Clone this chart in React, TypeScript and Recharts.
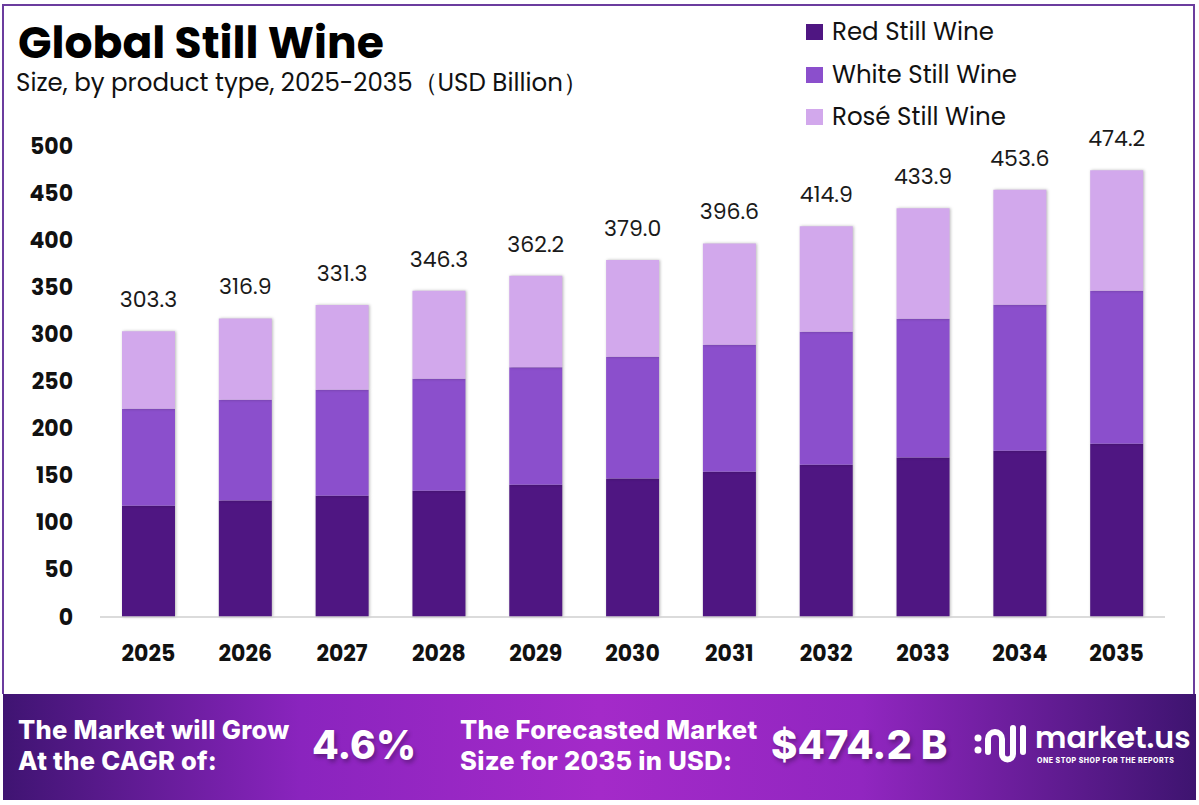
import React from 'react';
import { BarChart, Bar, XAxis, YAxis, LabelList } from 'recharts';

const years = ['2025', '2026', '2027', '2028', '2029', '2030', '2031', '2032', '2033', '2034', '2035'];
const redStill = [118.0, 123.6, 128.6, 133.9, 140.3, 147.0, 154.1, 161.5, 169.3, 176.4, 183.8];
const whiteStill = [103.0, 107.0, 112.6, 119.0, 124.7, 129.3, 134.9, 141.4, 147.4, 155.2, 162.6];
const roseStill = [82.3, 86.3, 90.1, 93.4, 97.2, 102.7, 107.6, 112.0, 117.2, 122.0, 127.8];
const totals = [303.3, 316.9, 331.3, 346.3, 362.2, 379.0, 396.6, 414.9, 433.9, 453.6, 474.2];
const yTicks = [0, 50, 100, 150, 200, 250, 300, 350, 400, 450, 500];

const seriesNames = ['Red Still Wine', 'White Still Wine', 'Rosé Still Wine'];
const colors = ['#4F1682', '#8B4FCC', '#D2A8EC'];

const data = years.map((y, i) => ({
  year: y,
  red: redStill[i],
  white: whiteStill[i],
  rose: roseStill[i],
  total: totals[i],
}));

const FONT = 'Poppins, Inter, "Noto Sans", sans-serif';
const FOOT_FONT = 'Inter, Roboto, "Liberation Sans", sans-serif';

const YTick = (props: any) => {
  const { y, payload } = props;
  return (
    <text x={73} y={y} textAnchor="end" dominantBaseline="central" fontFamily={FONT} fontWeight={700} fontSize={22} fill="#111">
      {payload.value}
    </text>
  );
};

const XTick = (props: any) => {
  const { x, y, payload } = props;
  return (
    <text x={x} y={y + 28} textAnchor="middle" dominantBaseline="central" fontFamily={FONT} fontWeight={700} fontSize={22} fill="#111">
      {payload.value}
    </text>
  );
};

const Logo = () => (
  <svg width={56} height={44} viewBox="0 0 56 44" style={{ position: 'absolute', left: 973, top: 722 }}>
    <circle cx={5} cy={16} r={3.5} fill="#fff" />
    <circle cx={5} cy={28} r={3.5} fill="#fff" />
    <path d="M15 30 V17 a7 7 0 0 1 14 0 V32 a5.5 5.5 0 0 0 11 0 V6" stroke="#fff" strokeWidth={6} fill="none" strokeLinecap="round" />
    <path d="M50 6 V30" stroke="#fff" strokeWidth={6} strokeLinecap="round" />
  </svg>
);

export default function App() {
  return (
    <div style={{ position: 'absolute', left: 0, top: 0, width: 1199, height: 805, background: '#fff', overflow: 'hidden' }}>
      <style>{`.recharts-bar-rectangles { filter: drop-shadow(1.5px 0px 1.5px rgba(0,0,0,0.28)); }`}</style>
      <div style={{ position: 'absolute', left: 2, top: 4, width: 1193, height: 690, border: '2px solid #6B3C9E', borderBottom: 'none', boxSizing: 'border-box' }} />
      <div style={{ position: 'absolute', left: 0, top: 0 }}>
        <BarChart width={1199} height={690} data={data} margin={{ top: 146, right: 34, bottom: 33, left: 0 }} barSize={53}>
          <XAxis dataKey="year" axisLine={{ stroke: '#cfcfcf', strokeWidth: 1.5 }} tickLine={false} tick={<XTick />} height={40} interval={0} />
          <YAxis domain={[0, 500]} ticks={yTicks} axisLine={false} tickLine={false} tick={<YTick />} width={100} interval={0} />
          <Bar dataKey="red" stackId="a" fill={colors[0]} isAnimationActive={false} name={seriesNames[0]} />
          <Bar dataKey="white" stackId="a" fill={colors[1]} isAnimationActive={false} name={seriesNames[1]} />
          <Bar dataKey="rose" stackId="a" fill={colors[2]} isAnimationActive={false} name={seriesNames[2]}>
            <LabelList dataKey="total" position="top" offset={24} formatter={(v: any) => Number(v).toFixed(1)} style={{ fontFamily: FONT, fontSize: 22, fill: '#1a1a1a' }} />
          </Bar>
        </BarChart>
      </div>

      <div style={{ position: 'absolute', left: 18, top: 21, fontFamily: FONT, fontWeight: 700, fontSize: 44, color: '#000', lineHeight: '44px' }}>Global Still Wine</div>
      <div style={{ position: 'absolute', left: 16, top: 68, fontFamily: FONT, fontSize: 24.5, color: '#111', lineHeight: '30px' }}>Size, by product type, 2025-2035（USD Billion）</div>

      <div style={{ position: 'absolute', left: 806, top: 11 }}>
        {seriesNames.map((n, i) => (
          <div key={n} style={{ display: 'flex', alignItems: 'center', height: 42.5 }}>
            <div style={{ width: 17, height: 16, background: colors[i], marginRight: 9 }} />
            <span style={{ fontFamily: FONT, fontSize: 24.5, color: '#111', lineHeight: '30px' }}>{n}</span>
          </div>
        ))}
      </div>

      <div style={{ position: 'absolute', left: 3, top: 694, width: 1193, height: 106, background: 'linear-gradient(90deg, #3F1472 0%, #8A24BE 25%, #A42AC9 50%, #9126C0 72%, #3E1470 100%)' }} />
      <div style={{ position: 'absolute', left: 18, top: 714, fontFamily: FOOT_FONT, fontWeight: 800, fontSize: 25.5, color: '#fff', lineHeight: '31px', letterSpacing: 0.3 }}>
        The Market will Grow<br />At the CAGR of:
      </div>
      <div style={{ position: 'absolute', left: 312, top: 720, fontFamily: FOOT_FONT, fontWeight: 800, fontSize: 39, color: '#fff', lineHeight: '50px', textShadow: '2px 3px 4px rgba(0,0,0,0.3)' }}>4.6%</div>
      <div style={{ position: 'absolute', left: 460, top: 714, fontFamily: FOOT_FONT, fontWeight: 800, fontSize: 25.5, color: '#fff', lineHeight: '31px', letterSpacing: 0.3 }}>
        The Forecasted Market<br />Size for 2035 in USD:
      </div>
      <div style={{ position: 'absolute', left: 771, top: 720, fontFamily: FOOT_FONT, fontWeight: 800, fontSize: 40, color: '#fff', lineHeight: '50px', textShadow: '2px 3px 4px rgba(0,0,0,0.3)' }}>$474.2 B</div>
      <Logo />
      <div style={{ position: 'absolute', left: 1035, top: 721, fontFamily: FONT, fontWeight: 600, fontSize: 30, color: '#fff', lineHeight: '34px' }}>market.us</div>
      <div style={{ position: 'absolute', left: 1037, top: 756, fontFamily: FOOT_FONT, fontWeight: 800, fontSize: 7, lineHeight: '9px', color: '#fff', letterSpacing: 0.5, whiteSpace: 'nowrap' }}>ONE STOP SHOP FOR THE REPORTS</div>
    </div>
  );
}
